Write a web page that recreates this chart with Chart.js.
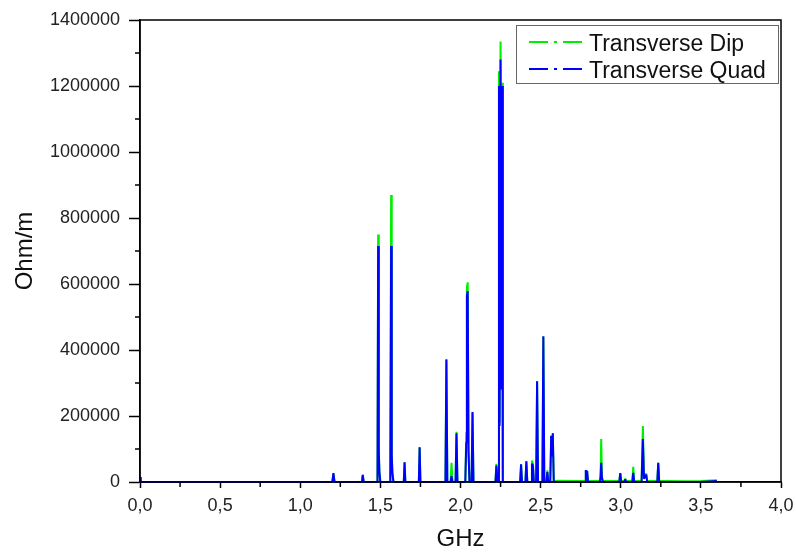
<!DOCTYPE html>
<html>
<head>
<meta charset="utf-8">
<script src="https://cdn.jsdelivr.net/npm/chart.js@4"></script>
<style>
  body { margin: 0; background: #fff; }
  #wrap { width: 796px; height: 554px; }
</style>
</head>
<body>
<div id="wrap"><canvas id="myChart" width="796" height="554"></canvas></div>
<script>
// frequency points (GHz) shared by both series
const freqGHz = [
  0.000, 0.005, 1.200, 1.207, 1.214, 1.385, 1.390, 1.396,
  1.482, 1.486, 1.490, 1.494, 1.500,
  1.562, 1.567, 1.571, 1.575, 1.582,
  1.646, 1.651, 1.656, 1.740, 1.745, 1.750,
  1.906, 1.912, 1.918, 1.938, 1.944, 1.950, 1.969, 1.975, 1.981,
  2.030, 2.036, 2.040, 2.045, 2.050, 2.056, 2.069, 2.075, 2.081,
  2.218, 2.224, 2.230, 2.236, 2.240, 2.244, 2.250, 2.254, 2.259, 2.264,
  2.372, 2.378, 2.384, 2.405, 2.411, 2.417, 2.440, 2.446, 2.452, 2.458,
  2.472, 2.478, 2.484, 2.511, 2.517, 2.523, 2.536, 2.542, 2.548,
  2.560, 2.566, 2.571, 2.576, 2.582, 2.620, 2.700,
  2.777, 2.782, 2.786, 2.790, 2.796,
  2.870, 2.874, 2.878, 2.883, 2.890,
  2.991, 2.997, 3.003, 3.022, 3.028, 3.034,
  3.072, 3.078, 3.084, 3.130, 3.138, 3.145, 3.159, 3.165,
  3.228, 3.234, 3.240, 3.300, 3.400, 3.500, 3.600
];

// Transverse Dip (Ohm/m)
const dipOhm = [
  5000, 0, 0, 25000, 0, 0, 20000, 0,
  0, 750000, 95000, 30000, 0,
  0, 870000, 85000, 30000, 0,
  0, 60000, 0, 0, 105000, 0,
  0, 370000, 0, 0, 58000, 0, 0, 152000, 0,
  0, 150000, 590000, 605000, 100000, 0, 0, 210000, 0,
  0, 55000, 5000, 0, 1245000, 180000, 1335000, 300000, 1210000, 0,
  0, 54000, 0, 0, 63000, 0, 0, 65000, 55000, 0,
  0, 305000, 0, 0, 440000, 0, 0, 35000, 0,
  0, 140000, 80000, 148000, 3000, 4000, 3000,
  3000, 36000, 25000, 34000, 3000,
  3000, 20000, 130000, 15000, 3000,
  3000, 27000, 3000, 3000, 10000, 3000,
  3000, 46000, 3000, 3000, 170000, 20000, 25000, 3000,
  3000, 58000, 3000, 3000, 2000, 3000, 5000
];

// Transverse Quad (Ohm/m)
const quadOhm = [
  15000, 0, 0, 27000, 0, 0, 22000, 0,
  0, 715000, 92000, 30000, 0,
  0, 715000, 80000, 25000, 0,
  0, 60000, 0, 0, 105000, 0,
  0, 372000, 0, 0, 18000, 0, 0, 148000, 0,
  0, 120000, 565000, 578000, 90000, 0, 0, 212000, 0,
  0, 50000, 5000, 0, 1200000, 170000, 1280000, 280000, 1200000, 0,
  0, 54000, 0, 0, 63000, 0, 0, 55000, 50000, 0,
  0, 305000, 0, 0, 442000, 0, 0, 30000, 0,
  0, 140000, 80000, 148000, 0, 0, 0,
  0, 36000, 25000, 34000, 0,
  0, 15000, 58000, 10000, 0,
  0, 27000, 0, 0, 8000, 0,
  0, 28000, 0, 0, 130000, 10000, 22000, 0,
  0, 58000, 0, 0, 0, 0, 3000
];

const seriesNames = ['Transverse Dip', 'Transverse Quad'];
const seriesColors = ['#00ee00', '#0000ff'];

const FONT = '"Liberation Sans", Arial, sans-serif';

const toPoints = vals => freqGHz.map((f, i) => ({x: f, y: vals[i]}));

// frame, minor ticks and the legend box
const framePlugin = {
  id: 'frame',
  afterDatasetsDraw(chart){
    const ctx = chart.ctx;
    const a = chart.chartArea;
    const sx = chart.scales.x, sy = chart.scales.y;
    ctx.save();
    ctx.strokeStyle = '#000';
    ctx.lineWidth = 1.5;
    ctx.strokeRect(a.left, a.top, a.right - a.left, a.bottom - a.top);

    // minor ticks between the labelled ones
    ctx.beginPath();
    for(let v = 0.25; v < 4; v += 0.5){
      const px = sx.getPixelForValue(v);
      ctx.moveTo(px, a.bottom);
      ctx.lineTo(px, a.bottom + 5);
    }
    for(let v = 100000; v < 1400000; v += 200000){
      const py = sy.getPixelForValue(v);
      ctx.moveTo(a.left, py);
      ctx.lineTo(a.left - 5, py);
    }
    ctx.stroke();

    // legend
    const bx = 516, by = 25, bw = 262, bh = 58;
    ctx.fillStyle = '#fff';
    ctx.fillRect(bx, by, bw, bh);
    ctx.strokeStyle = '#666';
    ctx.lineWidth = 1;
    ctx.strokeRect(bx + 0.5, by + 0.5, bw, bh);
    seriesNames.forEach((name, i) => {
      const y = 42 + i * 27;
      ctx.strokeStyle = seriesColors[i];
      ctx.lineWidth = 2;
      ctx.setLineDash([19, 6, 3, 6]);
      ctx.beginPath();
      ctx.moveTo(529, y);
      ctx.lineTo(582, y);
      ctx.stroke();
      ctx.setLineDash([]);
      ctx.fillStyle = '#111';
      ctx.font = '23px ' + FONT;
      ctx.textBaseline = 'alphabetic';
      ctx.textAlign = 'left';
      ctx.fillText(name, 589, y + 9);
    });
    ctx.restore();
  }
};

new Chart(document.getElementById('myChart').getContext('2d'), {
  type: 'line',
  data: {
    datasets: [
      {
        label: seriesNames[0],
        data: toPoints(dipOhm),
        borderColor: seriesColors[0],
        borderWidth: 2,
        borderJoinStyle: 'bevel',
        pointRadius: 0,
        tension: 0,
        clip: false,
        order: 1
      },
      {
        label: seriesNames[1],
        data: toPoints(quadOhm),
        borderColor: seriesColors[1],
        borderWidth: 2,
        borderJoinStyle: 'bevel',
        pointRadius: 0,
        tension: 0,
        clip: false,
        order: 0
      }
    ]
  },
  options: {
    responsive: false,
    animation: false,
    layout: { padding: { top: 20, right: 15, left: 0, bottom: 0 } },
    plugins: {
      legend: { display: false },
      tooltip: { enabled: false }
    },
    scales: {
      x: {
        type: 'linear',
        min: 0,
        max: 4,
        afterFit: s => { s.height = 72; s.paddingLeft = 0; s.paddingRight = 0; },
        grid: { drawOnChartArea: false, tickLength: 6, color: '#000', tickWidth: 1.5 },
        border: { color: '#000', width: 1.5 },
        ticks: {
          stepSize: 0.5,
          autoSkip: false,
          maxRotation: 0,
          padding: 7,
          color: '#222',
          font: { family: FONT, size: 18 },
          callback: v => v.toFixed(1).replace('.', ',')
        },
        title: {
          display: true,
          text: 'GHz',
          color: '#111',
          font: { family: FONT, size: 24 },
          padding: { top: 0, bottom: 0 }
        }
      },
      y: {
        min: 0,
        max: 1400000,
        afterFit: s => { s.width = 140; },
        grid: { drawOnChartArea: false, tickLength: 11, color: '#000', tickWidth: 1.5 },
        border: { color: '#000', width: 1.5 },
        ticks: {
          stepSize: 200000,
          autoSkip: false,
          padding: 9,
          color: '#222',
          font: { family: FONT, size: 18 },
          callback: v => String(v)
        },
        title: {
          display: true,
          text: 'Ohm/m',
          color: '#111',
          font: { family: FONT, size: 24 },
          padding: { top: 11, bottom: 0 }
        }
      }
    }
  },
  plugins: [framePlugin]
});
</script>
</body>
</html>
